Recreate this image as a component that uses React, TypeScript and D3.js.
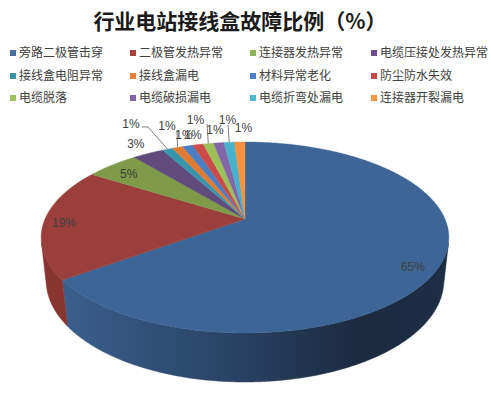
import React from "react";
import * as d3 from "d3";

const categories = [
  "旁路二极管击穿", "二极管发热异常", "连接器发热异常", "电缆压接处发热异常",
  "接线盒电阻异常", "接线盒漏电", "材料异常老化", "防尘防水失效",
  "电缆脱落", "电缆破损漏电", "电缆折弯处漏电", "连接器开裂漏电",
];
const values = [65, 19, 5, 3, 1, 1, 1, 1, 1, 1, 1, 1];
const labels = ["65%", "19%", "5%", "3%", "1%", "1%", "1%", "1%", "1%", "1%", "1%", "1%"];
const title = "行业电站接线盒故障比例（%）";

const topColors = ["#3d6696", "#9b3f3c", "#7f9a48", "#5f4b7c", "#3795ad", "#e07b30", "#4a7ec2", "#cc4a47", "#9cc05a", "#8466a8", "#46b2cc", "#f7923f"];
const legendColors = ["#4a6d9c", "#a8403e", "#8db255", "#6a4d8e", "#3b93a8", "#e0803a", "#4a80c8", "#c84848", "#9cc45a", "#8064a2", "#4bb8d0", "#f89646"];

// label layout: radial factor in pie plane, nudge, optional leader start (relative to label center)
const labelLayout: { r: number; dx: number; dy: number; leader?: [number, number][] }[] = [
  { r: 0.87, dx: 0, dy: 8 },
  { r: 0.9, dx: 0, dy: 1.5 },
  { r: 0.86, dx: 0, dy: 2 },
  { r: 1.15, dx: 0, dy: -1.5 },
  { r: 1, dx: -36.6, dy: -25.2, leader: [[11, 3], [17, 3]] },
  { r: 1, dx: -10.6, dy: -21.4, leader: [[10, 4]] },
  { r: 1, dx: -3.7, dy: -11.3 },
  { r: 1, dx: -5, dy: -10 },
  { r: 1, dx: -12.8, dy: -23.6, leader: [[11.5, 4]] },
  { r: 1, dx: -3.8, dy: -12.8 },
  { r: 1, dx: -1.7, dy: -22.3, leader: [[0.5, 5]] },
  { r: 1, dx: 3.8, dy: -14 },
];

const F = 917, D = 4.585, S = 0.4596, C = 0.888, CX = 245, CY = 219, H = 0.245;

function proj(r: number, t: number, y: number): [number, number] {
  const X = r * Math.sin(t), Z = r * Math.cos(t);
  const u = Z * S + y * C;
  const w = D + Z * C - y * S;
  return [CX + (F * X) / w, CY - (F * u) / w];
}

function arcPts(a0: number, a1: number, y: number): [number, number][] {
  const n = Math.max(2, Math.ceil(((a1 - a0) * 180) / Math.PI / 0.5));
  const pts: [number, number][] = [];
  for (let i = 0; i <= n; i++) pts.push(proj(1, a0 + ((a1 - a0) * i) / n, y));
  return pts;
}

export default function App() {
  const pie = d3.pie<number>().sort(null).value((d) => d)(values);
  const line = d3.line().curve(d3.curveLinear);
  const visA = Math.acos(-1 / (C * D));
  const visB = 2 * Math.PI - visA;

  const walls = pie
    .map((p, i) => {
      const a0 = Math.max(p.startAngle, visA);
      const a1 = Math.min(p.endAngle, visB);
      if (a1 <= a0) return null;
      const top = arcPts(a0, a1, 0);
      const bot = arcPts(a0, a1, -H).reverse();
      return { i, d: line([...top, ...bot]) + "Z" };
    })
    .filter(Boolean) as { i: number; d: string }[];

  const tops = pie.map((p, i) => {
    const pts = [proj(0, 0, 0), ...arcPts(p.startAngle, p.endAngle, 0)];
    return { i, d: line(pts) + "Z" };
  });

  const wallFill = (i: number) => (i === 0 ? "url(#blueSide)" : i === 1 ? "#8a3432" : topColors[i]);

  const colX = [10, 130, 250, 371];
  const rowY = [53, 76, 98];

  return (
    <svg width={491} height={395} style={{ position: "absolute", left: 0, top: 0, background: "#fff" }}>
      <defs>
        <linearGradient id="blueSide" gradientUnits="userSpaceOnUse" x1={40} y1={0} x2={450} y2={0}>
          <stop offset="0%" stopColor="#3d6292" />
          <stop offset="45%" stopColor="#2a4466" />
          <stop offset="78%" stopColor="#1b2a3f" />
          <stop offset="100%" stopColor="#1e2e45" />
        </linearGradient>
      </defs>
      <text x={240} y={29} textAnchor="middle" fontFamily="'Noto Sans CJK SC', sans-serif" fontWeight="bold" fontSize={21} fill="#1a1a1a">
        {title}
      </text>
      {categories.map((c, i) => {
        const x = colX[i % 4];
        const y = rowY[Math.floor(i / 4)];
        return (
          <g key={c}>
            <rect x={x} y={y - 3} width={6} height={6} fill={legendColors[i]} />
            <text x={x + 9} y={y} dy="0.36em" fontFamily="'Noto Sans CJK SC', sans-serif" fontSize={12} fill="#404040">
              {c}
            </text>
          </g>
        );
      })}
      {walls.map((w) => (
        <path key={"w" + w.i} d={w.d} fill={wallFill(w.i)} stroke={wallFill(w.i)} strokeWidth={0.5} />
      ))}
      {tops.map((t) => (
        <path key={"t" + t.i} d={t.d} fill={topColors[t.i]} stroke={topColors[t.i]} strokeWidth={0.4} />
      ))}
      {pie.map((p, i) => {
        const L = labelLayout[i];
        const mid = (p.startAngle + p.endAngle) / 2;
        const [bx, by] = proj(L.r, mid, 0);
        const lx = bx + L.dx, ly = by + L.dy;
        let leader = null;
        if (L.leader) {
          const rim = proj(1, mid, 0);
          const pts: [number, number][] = L.leader.map(([ox, oy]) => [lx + ox, ly + oy] as [number, number]);
          pts.push(rim);
          leader = <path d={line(pts) || ""} fill="none" stroke="#7f7f7f" strokeWidth={1} />;
        }
        return (
          <g key={"l" + i}>
            {leader}
            <text x={lx} y={ly} dy="0.35em" textAnchor="middle" fontFamily="'Liberation Sans', Arial, sans-serif" fontSize={12} fill="#404040">
              {labels[i]}
            </text>
          </g>
        );
      })}
    </svg>
  );
}
